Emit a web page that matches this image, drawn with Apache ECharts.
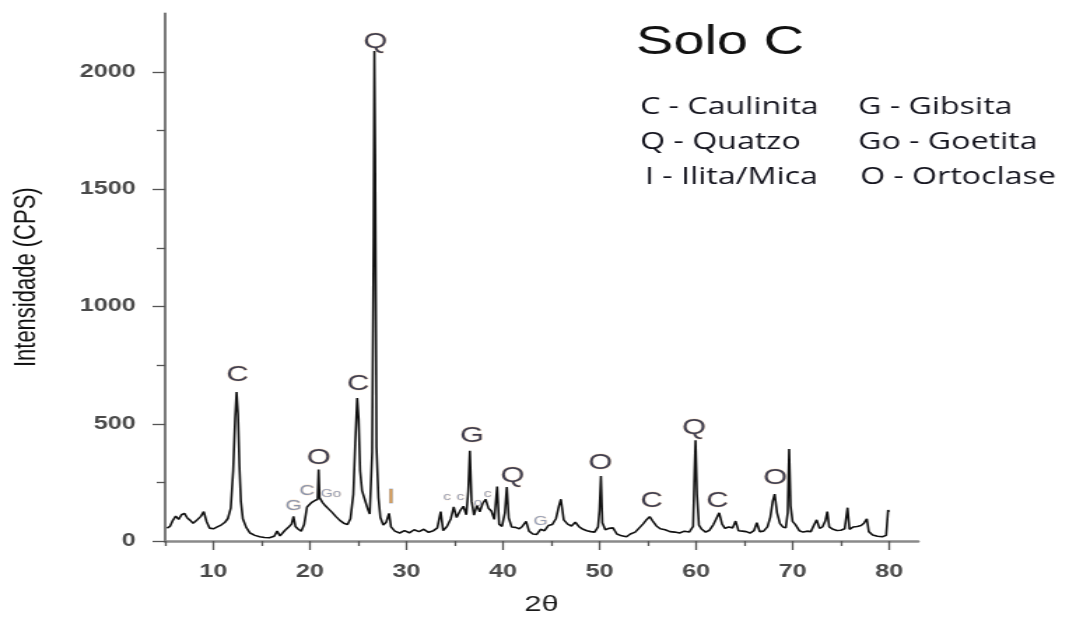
<!DOCTYPE html>
<html>
<head>
<meta charset="utf-8">
<script src="https://cdn.jsdelivr.net/npm/echarts@6/dist/echarts.min.js"></script>
<style>
html,body{margin:0;padding:0;background:#fff;overflow:hidden;}
#chart{width:764px;height:621px;transform:scaleX(1.3992);transform-origin:0 0;}
</style>
</head>
<body>
<div id="chart"></div>
<script>
// ---- data ----
const twoTheta = [
 5.2,5.5,5.8,6.1,6.4,6.7,7.0,7.3,7.6,7.9,8.3,8.7,9.0,9.3,9.6,10.0,10.4,10.8,11.2,11.5,11.8,
 12.05,12.25,12.4,12.55,12.7,12.85,13.05,13.4,13.8,14.3,14.8,15.3,15.8,16.3,16.6,16.9,17.4,17.8,18.1,
 18.3,18.5,18.8,19.1,19.4,19.7,19.9,20.2,20.5,20.8,20.9,21.0,21.3,21.6,21.9,22.3,22.7,23.1,23.5,23.9,
 24.2,24.5,24.7,24.9,25.05,25.2,25.4,25.7,26.0,26.2,26.45,26.6,26.68,26.76,26.9,27.1,27.3,27.6,27.9,
 28.2,28.4,28.8,29.3,29.8,30.3,30.8,31.3,31.8,32.3,32.8,33.2,33.55,33.8,34.2,34.6,34.9,35.2,35.6,35.9,
 36.2,36.4,36.57,36.75,37.0,37.3,37.6,37.9,38.2,38.5,38.8,39.1,39.4,39.6,39.9,40.2,40.4,40.6,40.9,
 41.3,41.7,42.0,42.4,42.7,43.1,43.5,43.9,44.3,44.7,45.1,45.5,45.8,46.0,46.3,46.7,47.1,47.5,47.9,
 48.3,48.7,49.1,49.5,49.85,50.0,50.15,50.3,50.6,51.0,51.4,51.8,52.3,52.8,53.2,53.7,54.1,54.5,54.9,
 55.2,55.5,55.9,56.3,56.8,57.3,57.8,58.3,58.8,59.3,59.7,59.85,59.95,60.1,60.3,60.6,61.0,61.4,61.8,
 62.1,62.4,62.7,63.0,63.4,63.8,64.1,64.4,64.8,65.2,65.6,66.0,66.3,66.6,67.0,67.4,67.7,67.95,68.15,
 68.4,68.7,69.0,69.3,69.5,69.65,69.8,70.0,70.3,70.7,71.1,71.5,71.9,72.2,72.5,72.8,73.1,73.4,73.6,
 73.8,74.2,74.6,75.0,75.4,75.7,75.9,76.3,76.7,77.1,77.4,77.7,77.9,78.3,78.8,79.3,79.7,79.9,80.0
];
const intensity = [
 55,62,88,106,92,112,118,98,88,76,90,105,125,82,55,52,60,68,80,96,140,
 300,520,635,540,320,170,95,58,34,24,18,15,14,20,42,22,45,60,72,
 105,62,50,42,70,145,150,165,172,178,305,185,165,150,138,122,104,88,76,70,
 95,200,420,610,520,300,215,175,135,115,380,1300,2090,1650,400,185,100,68,80,
 118,60,42,34,44,35,48,40,50,37,44,56,125,44,62,95,145,100,132,148,
 112,210,385,170,110,152,125,160,178,140,128,92,232,72,62,120,230,98,60,
 58,52,62,84,42,30,28,50,44,66,70,96,150,178,90,72,64,80,60,
 50,44,40,38,60,130,277,78,48,54,56,30,22,18,30,38,55,72,92,
 104,86,64,52,48,40,38,34,42,38,62,300,430,200,68,50,38,46,70,
 95,120,72,54,60,56,85,44,42,40,34,44,78,40,42,60,102,170,200,
 120,74,60,56,120,392,150,84,70,44,38,42,40,66,90,54,60,86,125,
 60,50,45,46,52,142,50,60,62,66,76,95,40,26,20,18,24,132,125
];

// peak annotations
const labelText  = ['C','G','C','O','Go','C','Q','I','c','c','G','o','c','Q','G','O','C','Q','C','O'];
const labelTheta = [12.5,18.3,19.7,20.9,22.2,25.0,26.8,28.4,34.2,35.6,36.8,37.4,38.4,41.0,43.9,50.1,55.4,59.8,62.2,68.2];
const labelCps   = [708,149,213,354,200,670,2128,188,188,188,448,162,200,277,85,333,171,482,171,269];
const labelKind  = ['big','small','small','big','tiny','big','big','ilita','tiny','tiny','big','tiny','tiny','big','tinyG','big','big','big','big','big'];

// axes
const xMajorTicks = [10,20,30,40,50,60,70,80];
const xMinorTicks = [5,15,25,35,45,55,65,75];
const yMajorTicks = [0,500,1000,1500,2000];
const yMinorTicks = [250,750,1250,1750];

// texts
const titleText = 'Solo C';
const legendLeft = ['C - Caulinita','Q - Quatzo','I - Ilita/Mica'];
const legendRight = ['G - Gibsita','Go - Goetita','O - Ortoclase'];
const xName = '2θ';
const yName = 'Intensidade (CPS)';

// ---- layout helpers (reference is horizontally stretched) ----
const STRETCH = 1069 / 764;
const px = v => v / STRETCH;

const labelStyles = {
  big:   {fontSize: 22, color: '#0f0f26', textBorderColor: 'rgba(230,150,60,0.3)', textBorderWidth: 0.8},
  small: {fontSize: 15, color: '#6e7ea0', textBorderColor: 'rgba(230,150,60,0.35)', textBorderWidth: 0.8},
  tiny:  {fontSize: 11, color: '#7c8cae', textBorderColor: 'rgba(230,150,60,0.3)', textBorderWidth: 0.6},
  tinyG: {fontSize: 13, color: '#7c8cae', textBorderColor: 'rgba(230,150,60,0.3)', textBorderWidth: 0.6},
  ilita: {fontSize: 21, color: '#cf8224', textBorderColor: 'rgba(40,90,170,0.45)', textBorderWidth: 0.8}
};

const lineData = twoTheta.map((t, i) => [t, intensity[i]]);
const labelData = labelText.map((s, i) => ({
  name: s,
  value: [labelTheta[i], labelCps[i]],
  label: Object.assign({show: true, position: 'inside', formatter: '{b}', fontFamily: 'Liberation Sans'}, labelStyles[labelKind[i]])
}));

const legendGraphics = [];
const legendY = [107, 142, 177];
legendLeft.forEach((s, i) => legendGraphics.push({
  type: 'text', x: px(i === 2 ? 645 : 640), y: legendY[i],
  style: {text: s, font: '23px "Open Sans"', fill: '#15151f', textAlign: 'left', textVerticalAlign: 'middle'}
}));
legendRight.forEach((s, i) => legendGraphics.push({
  type: 'text', x: px(i === 2 ? 860 : 858), y: legendY[i],
  style: {text: s, font: '23px "Open Sans"', fill: '#15151f', textAlign: 'left', textVerticalAlign: 'middle'}
}));

const tickFont = {fontFamily: 'Liberation Sans', fontSize: 18, fontWeight: 'bold', color: '#4a4a4a', formatter: v => String(v)};

const option = {
  animation: false,
  backgroundColor: '#fff',
  grid: {left: px(160), right: 764 - px(918), top: 13.4, bottom: 80, containLabel: false},
  xAxis: [
    {
      type: 'value', min: 5, max: 83,
      name: xName, nameLocation: 'middle', nameGap: 53,
      nameTextStyle: {fontFamily: 'Liberation Sans', fontSize: 22, color: '#1a1a1a'},
      axisLine: {show: true, onZero: false, lineStyle: {color: '#8a8a8a', width: 2.5}},
      axisTick: {show: true, customValues: xMajorTicks, length: 9, lineStyle: {color: '#555', width: 1.3}},
      axisLabel: Object.assign({customValues: xMajorTicks, margin: 22}, tickFont),
      splitLine: {show: false}
    },
    {
      type: 'value', min: 5, max: 83, position: 'bottom',
      axisLine: {show: false},
      axisTick: {show: true, customValues: xMinorTicks, length: 5, lineStyle: {color: '#555', width: 1.3}},
      axisLabel: {show: false},
      splitLine: {show: false}
    }
  ],
  yAxis: [
    {
      type: 'value', min: 0, max: 2250,
      name: yName, nameLocation: 'middle', nameRotate: 90, nameGap: 88,
      nameTextStyle: {fontFamily: 'Liberation Sans', fontSize: 22, color: '#111'},
      axisLine: {show: true, onZero: false, lineStyle: {color: '#5a5a5a', width: 1.6}},
      axisTick: {show: true, customValues: yMajorTicks, length: 9, lineStyle: {color: '#555', width: 1.3}},
      axisLabel: Object.assign({customValues: yMajorTicks, margin: 21}, tickFont),
      splitLine: {show: false}
    },
    {
      type: 'value', min: 0, max: 2250, position: 'left',
      axisLine: {show: false},
      axisTick: {show: true, customValues: yMinorTicks, length: 6, lineStyle: {color: '#555', width: 1.3}},
      axisLabel: {show: false},
      splitLine: {show: false}
    }
  ],
  series: [
    {
      type: 'line', xAxisIndex: 0, yAxisIndex: 0,
      data: lineData, showSymbol: false, symbol: 'none',
      lineStyle: {color: '#111', width: 1.6},
      silent: true
    },
    {
      type: 'scatter', xAxisIndex: 0, yAxisIndex: 0,
      data: labelData, symbolSize: 1,
      itemStyle: {color: 'rgba(0,0,0,0)'},
      silent: true, z: 5
    }
  ],
  graphic: [
    {
      type: 'text', x: px(636), y: 43,
      style: {text: titleText, font: '40px "Liberation Sans"', fill: '#111', textAlign: 'left', textVerticalAlign: 'middle'}
    }
  ].concat(legendGraphics)
};

const chart = echarts.init(document.getElementById('chart'), null, {renderer: 'canvas'});
chart.setOption(option);
</script>
</body>
</html>
